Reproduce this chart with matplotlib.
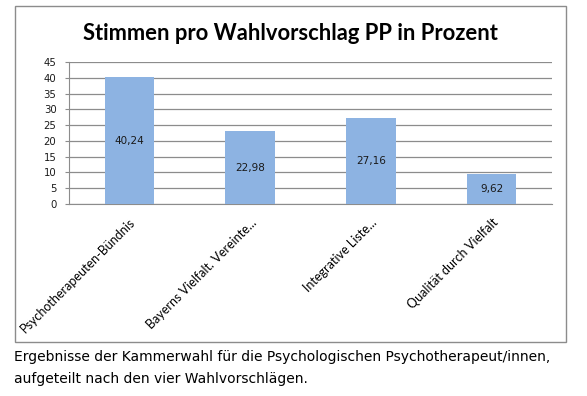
"""
Stimmen pro Wahlvorschlag PP - Balkendiagramm mit Bildunterschrift.
"""

import matplotlib.pyplot as plt
from matplotlib.patches import Rectangle

categories = ['Psychotherapeuten-Bündnis', 'Bayerns Vielfalt. Vereinte...',
              'Integrative Liste...', 'Qualität durch Vielfalt']
values = [40.24, 22.98, 27.16, 9.62]
value_labels = ['40,24', '22,98', '27,16', '9,62']
y_ticks = list(range(0, 50, 5))

title = 'Stimmen pro Wahlvorschlag PP in Prozent'
caption = ['Ergebnisse der Kammerwahl für die Psychologischen Psychotherapeut/innen,',
           'aufgeteilt nach den vier Wahlvorschlägen.']

W, H = 587, 396
fig = plt.figure(figsize=(W / 100, H / 100), dpi=100)

# outer chart frame
fig.patches.append(Rectangle((15 / W, 1 - 342 / H), 551 / W, 336 / H,
                             transform=fig.transFigure, fill=False,
                             edgecolor='#8c8c8c', linewidth=1.0))

ax = fig.add_axes([69 / W, 1 - 204 / H, 483 / W, 142 / H])
x = range(len(categories))
bars = ax.bar(x, values, width=0.41, color='#8db3e2', zorder=3)
for b, lab in zip(bars, value_labels):
    ax.text(b.get_x() + b.get_width() / 2, b.get_height() / 2, lab,
            ha='center', va='center', fontsize=7.5, color='#1a1a1a', zorder=4)

ax.set_xlim(-0.5, len(categories) - 0.5)
ax.set_ylim(0, 45)
ax.set_yticks(y_ticks)
ax.set_yticklabels([str(t) for t in y_ticks], fontsize=7.3, color='#1a1a1a')
ax.yaxis.grid(True, color='#8c8c8c', linewidth=0.9, zorder=0)
ax.tick_params(axis='y', length=3, color='#8c8c8c', pad=6)
ax.tick_params(axis='x', length=0, pad=9)
for side in ['top', 'right']:
    ax.spines[side].set_visible(False)
ax.spines['left'].set_color('#8c8c8c')
ax.spines['bottom'].set_color('#8c8c8c')

ax.set_xticks(list(x))
ax.set_xticklabels(categories, rotation=45, ha='right', rotation_mode='anchor',
                   fontsize=9, family='Lato')

fig.text(290 / W, 1 - 33 / H, title, ha='center', va='center',
         fontsize=15.8, fontweight='bold', family='Lato')

fig.text(14 / W, 1 - 357 / H, caption[0], ha='left', va='center', fontsize=10)
fig.text(14 / W, 1 - 379 / H, caption[1], ha='left', va='center', fontsize=10)

fig.savefig('out.png', dpi=100)
